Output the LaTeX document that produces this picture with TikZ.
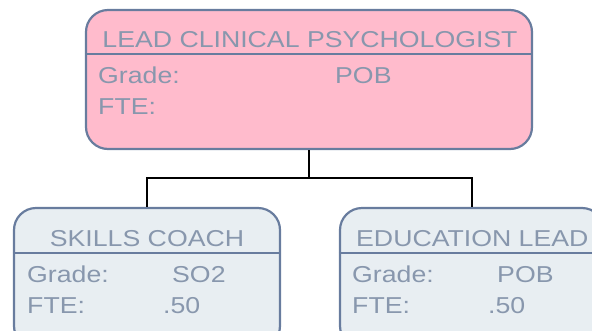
\documentclass[tikz,border=0pt]{standalone}
\usepackage{fontspec}
\setmainfont[FakeStretch=1.16]{Liberation Sans}
\definecolor{bordc}{RGB}{104,124,158}
\definecolor{txtc}{RGB}{136,151,173}
\definecolor{pinkf}{RGB}{255,187,204}
\definecolor{greyf}{RGB}{232,238,242}
\tikzset{
  box/.style={draw=bordc, line width=2.2pt, rounded corners=22pt, inner sep=0pt},
  divline/.style={draw=bordc, line width=2.2pt},
  ttl/.style={text=txtc, font=\fontsize{23}{26}\selectfont, inner sep=0pt, anchor=base},
  lbl/.style={text=txtc, font=\fontsize{23}{26}\selectfont, inner sep=0pt, anchor=base west},
  conn/.style={draw=black, line width=2pt}
}
\begin{document}
\begin{tikzpicture}[x=1pt,y=-1pt]
\useasboundingbox (0,0) rectangle (592,330);
\clip (0,0) rectangle (592,330);
% top box
\node[box, fill=pinkf, minimum width=446pt, minimum height=139pt] (top) at (309,79.5) {};
\draw[divline] (top.west |- 0,54) coordinate (tdl) -- (top.east |- 0,54) coordinate (tdr);
\node[ttl] (ttop) at (310,47) {LEAD CLINICAL PSYCHOLOGIST};
\node[lbl] (tg) at (98,83) {Grade:};
\node[lbl] (tgv) at (335,83) {POB};
\node[lbl] (tf) at (98,114) {FTE:};
% left box
\node[box, fill=greyf, minimum width=266pt, minimum height=140pt] (lb) at (147,278) {};
\draw[divline] (lb.west |- 0,253) coordinate (ldl) -- (lb.east |- 0,253) coordinate (ldr);
\node[ttl] (tlb) at (147,246) {SKILLS COACH};
\node[lbl] (lg) at (27,282) {Grade:};
\node[lbl] (lgv) at (172,282) {SO2};
\node[lbl] (lf) at (27,313) {FTE:};
\node[lbl] (lfv) at (163,313) {.50};
% right box
\node[box, fill=greyf, minimum width=264pt, minimum height=140pt] (rb) at (472,278) {};
\draw[divline] (rb.west |- 0,253) coordinate (rdl) -- (rb.east |- 0,253) coordinate (rdr);
\node[ttl, anchor=base west] (trb) at (356,246) {EDUCATION LEAD};
\node[lbl] (rg) at (352,282) {Grade:};
\node[lbl] (rgv) at (497,282) {POB};
\node[lbl] (rf) at (352,313) {FTE:};
\node[lbl] (rfv) at (488,313) {.50};
% connectors
\coordinate (jn) at (309,178);
\draw[conn] (top.south) -- (jn);
\draw[conn] (jn) -| (lb.north);
\draw[conn] (jn) -| (rb.north);
\end{tikzpicture}
\end{document}
